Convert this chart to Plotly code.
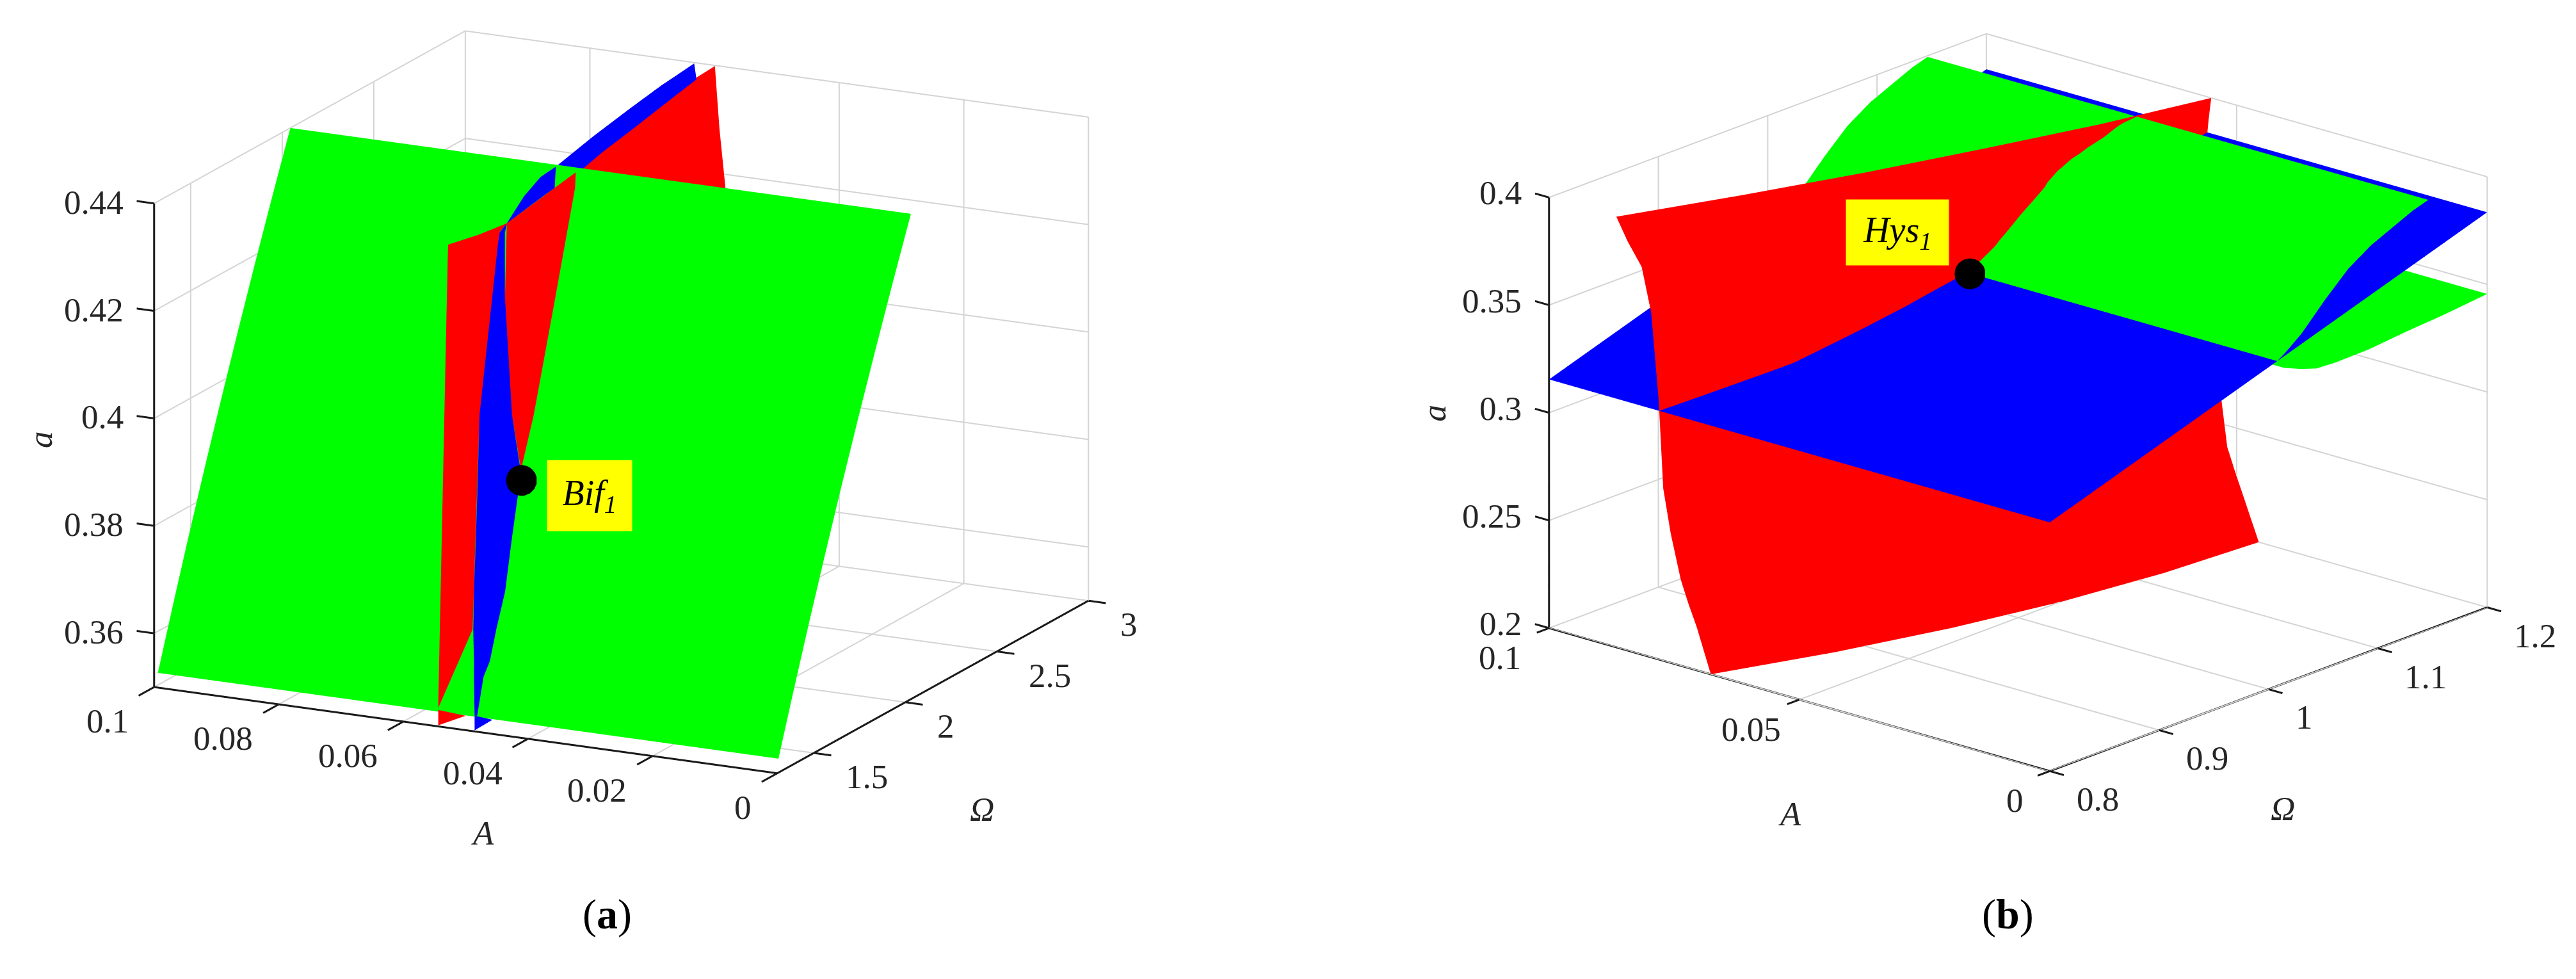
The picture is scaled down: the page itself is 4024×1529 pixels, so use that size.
import plotly.graph_objects as go

GREEN, RED, BLUE = "#00ff00", "#ff0000", "#0000ff"
TXT = "#1a1a1a"
GRID = "#d4d4d4"
FONT = "Liberation Serif"
W, H = 4024, 1529

# ---------- panel (a) ----------
A_TICKS_A = [0, 0.02, 0.04, 0.06, 0.08, 0.1]
A_TICKTEXT_A = ["0", "0.02", "0.04", "0.06", "0.08", "0.1"]
A_TICKS_OM = [1.5, 2, 2.5, 3]
A_TICKTEXT_OM = ["1.5", "2", "2.5", "3"]
A_TICKS_Z = [0.36, 0.38, 0.40, 0.42, 0.44]
A_TICKTEXT_Z = ["0.36", "0.38", "0.4", "0.42", "0.44"]

A_GREEN_OM = [1.3204, 1.402, 1.486, 1.5726, 1.6618, 1.7535, 1.8477, 1.9446, 2.0439]
A_GREEN_Z = [0.35227, 0.36323, 0.3742, 0.38517, 0.39613, 0.40710, 0.41807, 0.42904, 0.44]
A_GREEN_A = [0.1, 0.0004]

A_REDBACK_OM = [2.269, 3.0, 2.915, 3.0, 2.995, 2.995]
A_REDBACK_A = [0.06042, 0.0582, 0.06081, 0.05922, 0.0598, 0.0598]
A_REDBACK_Z = [0.4342, 0.41689, 0.43892, 0.42837, 0.44, 0.44]

A_BLUEBACK_OM = [2.15, 2.235, 2.32, 2.3557, 2.592, 2.5332, 2.796, 2.7107, 2.9932, 2.881]
A_BLUEBACK_A = [0.0604, 0.05902, 0.05957, 0.05909, 0.06164, 0.05919, 0.06263, 0.0593, 0.06307, 0.05941]
A_BLUEBACK_Z = [0.43724, 0.4350, 0.43964, 0.43615, 0.43938, 0.4373, 0.43963, 0.43858, 0.44, 0.43973]

A_REDSTRIP_OM = [1.3079, 1.3079, 1.4072, 1.4129, 1.6782, 1.6843, 1.8270, 1.8350, 1.8938, 1.9025, 1.9112, 1.9191, 1.9309, 1.9309]
A_REDSTRIP_A = [0.05464, 0.05464, 0.0573, 0.0522, 0.06453, 0.05907, 0.0685, 0.06146, 0.07027, 0.06253, 0.06596, 0.06271, 0.06193, 0.06193]
A_REDSTRIP_Z = [0.35323, 0.35323, 0.36554, 0.36626, 0.39915, 0.39991, 0.41762, 0.41860, 0.42589, 0.42698, 0.42806, 0.42903, 0.4305, 0.4305]

A_BLUESTRIP_OM = [1.3046, 1.3050, 1.3531, 1.3548, 1.3734, 1.3762, 1.4131, 1.4171, 1.4610, 1.4665, 1.5246, 1.5309, 1.6110, 1.6186, 1.6843, 1.6900, 1.8350, 1.8373, 1.9174, 1.9184, 1.9309, 1.9309]
A_BLUESTRIP_A = [0.0487, 0.0483, 0.05024, 0.04875, 0.05083, 0.04835, 0.0521, 0.04853, 0.05341, 0.04856, 0.05498, 0.04943, 0.05717, 0.05048, 0.05907, 0.05402, 0.06146, 0.05948, 0.06277, 0.06187, 0.06193, 0.06193]
A_BLUESTRIP_Z = [0.35282, 0.35287, 0.35884, 0.35905, 0.36135, 0.3617, 0.36627, 0.36677, 0.37222, 0.3729, 0.38011, 0.38089, 0.39082, 0.39176, 0.39991, 0.40063, 0.4186, 0.41888, 0.42882, 0.42894, 0.4305, 0.4305]

A_REDRIGHT_OM = [2.0071, 2.0071, 1.9839, 1.9875, 1.9309, 1.9418, 1.8373, 1.8461, 1.69, 1.6938, 1.6227, 1.6227]
A_REDRIGHT_A = [0.05311, 0.05311, 0.05581, 0.05264, 0.06193, 0.05232, 0.05948, 0.05165, 0.05402, 0.05065, 0.0506, 0.0506]
A_REDRIGHT_Z = [0.43995, 0.43995, 0.43707, 0.43752, 0.4305, 0.43185, 0.41888, 0.41998, 0.40063, 0.4011, 0.39227, 0.39227]

A_BLUEBAND_OM = [1.9309, 1.9309, 1.9680, 1.9559, 1.9952, 1.9722, 2.0378, 1.9839]
A_BLUEBAND_A = [0.06193, 0.06193, 0.06026, 0.05908, 0.0584, 0.05721, 0.0572, 0.05581]
A_BLUEBAND_Z = [0.4305, 0.4305, 0.4351, 0.4336, 0.43848, 0.43563, 0.43978, 0.43707]

A_REDTIP_OM = [1.3085, 1.3085, 1.3085, 1.3085]
A_REDTIP_A = [0.05465, 0.05025, 0.05465, 0.05465]
A_REDTIP_Z = [0.35286, 0.35248, 0.35, 0.35]

A_BLUETIP_OM = [1.3085, 1.3085, 1.3085, 1.3085]
A_BLUETIP_A = [0.04881, 0.04594, 0.04881, 0.04881]
A_BLUETIP_Z = [0.35273, 0.35243, 0.35, 0.35]

A_BIF = (1.5091, 0.04725, 0.39307)

# ---------- panel (b) ----------
B_TICKS_A = [0, 0.05, 0.1]
B_TICKTEXT_A = ["0", "0.05", "0.1"]
B_TICKS_OM = [0.8, 0.9, 1.0, 1.1, 1.2]
B_TICKTEXT_OM = ["0.8", "0.9", "1", "1.1", "1.2"]
B_TICKS_Z = [0.2, 0.25, 0.3, 0.35, 0.4]
B_TICKTEXT_Z = ["0.2", "0.25", "0.3", "0.35", "0.4"]

B_BLUE_OM = [0.8, 1.2]
B_BLUE_Z = [0.3155, 0.3835]
B_BLUE_A = [0.0, 0.1]

B_GREEN_OM = [1.2, 1.16, 1.126, 1.092, 1.0614, 1.044, 1.0291, 1.014, 1.008, 1.016, 1.0302, 1.052, 1.0731, 1.094, 1.116, 1.132, 1.1462]
B_GREEN_Z = [0.34556, 0.3434, 0.34212, 0.3404, 0.34008, 0.3406, 0.34324, 0.3466, 0.35086, 0.3536, 0.3594, 0.3712, 0.38144, 0.3884, 0.3935, 0.3972, 0.39948]
B_GREEN_A = [0.0, 0.1]

B_RED_OM = [0.8, 0.88, 0.96, 1.04, 1.12, 1.2]
B_RED_Z = [0.20, 0.21, 0.22, 0.23, 0.24, 0.26, 0.28, 0.32, 0.36, 0.38, 0.39, 0.40]
B_RED_A_R0 = [0.0677, 0.0603, 0.0544, 0.0499, 0.0470, 0.0456]
B_RED_A_R1 = [0.0691, 0.0616, 0.0559, 0.0516, 0.0489, 0.0472]
B_RED_A_R2 = [0.0705, 0.0628, 0.0574, 0.0532, 0.0508, 0.0488]
B_RED_A_R3 = [0.0722, 0.0637, 0.0585, 0.0546, 0.0524, 0.0504]
B_RED_A_R4 = [0.0737, 0.0645, 0.0595, 0.0560, 0.0540, 0.0519]
B_RED_A_R5 = [0.0757, 0.0660, 0.0606, 0.0570, 0.0550, 0.0530]
B_RED_A_R6 = [0.0772, 0.0672, 0.0615, 0.0578, 0.0558, 0.0540]
B_RED_A_R7 = [0.0781, 0.0680, 0.0625, 0.0585, 0.0562, 0.0550]
B_RED_A_R8 = [0.0796, 0.0700, 0.0650, 0.0607, 0.0565, 0.0560]
B_RED_A_R9 = [0.0815, 0.0725, 0.0665, 0.0615, 0.0575, 0.0560]
B_RED_A_R10 = [0.0843, 0.0755, 0.0690, 0.0635, 0.0585, 0.0556]
B_RED_A_R11 = [0.08656, 0.0788, 0.0717, 0.0655, 0.0597, 0.0551]

B_HYS = (0.9943, 0.05843, 0.35544)
B_HYS_TRUE = (1.008, 0.06143, 0.35086)

LIGHT = dict(ambient=1, diffuse=0, specular=0, roughness=1, fresnel=0)


def strip(om, a_, z, color, scene):
    """Flat lists ordered L0,R0,L1,R1,... -> triangles."""
    n = len(om) // 2
    i, j, k = [], [], []
    for r in range(n - 1):
        p = 2 * r
        i += [p, p + 1]
        j += [p + 1, p + 3]
        k += [p + 2, p + 2]
    return go.Mesh3d(x=om, y=a_, z=z, i=i, j=j, k=k, color=color, opacity=1, flatshading=True,
                     lighting=LIGHT, hoverinfo="skip", showscale=False, scene=scene)


def extrude(oms, zs, a_pair, color, scene):
    """Sheet a(Omega) swept across A."""
    om, a_, z = [], [], []
    for o, v in zip(oms, zs):
        om += [o, o]
        a_ += list(a_pair)
        z += [v, v]
    return strip(om, a_, z, color, scene)


def grid_mesh(oms, zs, rows, color, scene):
    nr, nc = len(zs), len(oms)
    x, y, z = [], [], []
    for r in range(nr):
        for c in range(nc):
            x.append(oms[c]); y.append(rows[r][c]); z.append(zs[r])
    i, j, k = [], [], []
    for r in range(nr - 1):
        for c in range(nc - 1):
            p = r * nc + c
            i += [p, p + 1]
            j += [p + 1, p + nc + 1]
            k += [p + nc, p + nc]
    return go.Mesh3d(x=x, y=y, z=z, i=i, j=j, k=k, color=color, opacity=1, flatshading=True,
                     lighting=LIGHT, hoverinfo="skip", showscale=False, scene=scene)


def segments(segs, color, width, scene):
    x, y, z = [], [], []
    for (p, q) in segs:
        x += [p[0], q[0], None]
        y += [p[1], q[1], None]
        z += [p[2], q[2], None]
    return go.Scatter3d(x=x, y=y, z=z, mode="lines", line=dict(color=color, width=width),
                        hoverinfo="skip", scene=scene)


def frame(scene, om0, om1, z0, z1, t_om, t_a, t_z, om_tick, a_tick):
    """MATLAB-style box: grid on the floor and the two back walls, black axes with ticks."""
    A0, A1 = 0.0, 0.1
    grid = []
    for o in t_om:
        grid.append(((o, A0, z0), (o, A1, z0)))
        grid.append(((o, A1, z0), (o, A1, z1)))
    for a_ in t_a:
        grid.append(((om0, a_, z0), (om1, a_, z0)))
        grid.append(((om1, a_, z0), (om1, a_, z1)))
    for v in t_z:
        grid.append(((om0, A1, v), (om1, A1, v)))
        grid.append(((om1, A0, v), (om1, A1, v)))
    axes = [((om0, A1, z0), (om0, A0, z0)), ((om0, A0, z0), (om1, A0, z0)), ((om0, A1, z0), (om0, A1, z1))]
    for o in t_om:
        axes.append(((o, A0, z0), (o, A0 - a_tick, z0)))
    for a_ in t_a:
        axes.append(((om0, a_, z0), (om0 - om_tick, a_, z0)))
    for v in t_z:
        axes.append(((om0, A1, v), (om0, A1 + a_tick, v)))
    return [segments(grid, GRID, 4, scene), segments(axes, TXT, 6, scene)]


fig = go.Figure()
for tr in frame("scene", 1.3, 3.0, 0.35, 0.44, A_TICKS_OM, A_TICKS_A, A_TICKS_Z, 0.085, 0.0028):
    fig.add_trace(tr)
for tr in frame("scene2", 0.8, 1.2, 0.2, 0.4, B_TICKS_OM, B_TICKS_A, B_TICKS_Z, 0.0112, 0.0028):
    fig.add_trace(tr)

# panel a
fig.add_trace(extrude(A_GREEN_OM, A_GREEN_Z, A_GREEN_A, GREEN, "scene"))
fig.add_trace(strip(A_REDBACK_OM, A_REDBACK_A, A_REDBACK_Z, RED, "scene"))
fig.add_trace(strip(A_BLUEBACK_OM, A_BLUEBACK_A, A_BLUEBACK_Z, BLUE, "scene"))
fig.add_trace(strip(A_REDSTRIP_OM, A_REDSTRIP_A, A_REDSTRIP_Z, RED, "scene"))
fig.add_trace(strip(A_BLUESTRIP_OM, A_BLUESTRIP_A, A_BLUESTRIP_Z, BLUE, "scene"))
fig.add_trace(strip(A_REDRIGHT_OM, A_REDRIGHT_A, A_REDRIGHT_Z, RED, "scene"))
fig.add_trace(strip(A_BLUEBAND_OM, A_BLUEBAND_A, A_BLUEBAND_Z, BLUE, "scene"))
fig.add_trace(strip(A_REDTIP_OM, A_REDTIP_A, A_REDTIP_Z, RED, "scene"))
fig.add_trace(strip(A_BLUETIP_OM, A_BLUETIP_A, A_BLUETIP_Z, BLUE, "scene"))
fig.add_trace(go.Scatter3d(x=[A_BIF[0]], y=[A_BIF[1]], z=[A_BIF[2]], mode="markers",
                           marker=dict(size=28, color="black"), hoverinfo="skip", scene="scene"))
# panel b
fig.add_trace(go.Mesh3d(x=[B_BLUE_OM[0], B_BLUE_OM[0], B_BLUE_OM[1], B_BLUE_OM[1]],
                        y=[B_BLUE_A[0], B_BLUE_A[1], B_BLUE_A[0], B_BLUE_A[1]],
                        z=[B_BLUE_Z[0], B_BLUE_Z[0], B_BLUE_Z[1], B_BLUE_Z[1]],
                        i=[0, 1], j=[1, 3], k=[2, 2], color=BLUE, opacity=1, flatshading=True,
                        lighting=LIGHT, hoverinfo="skip", showscale=False, scene="scene2"))
fig.add_trace(extrude(B_GREEN_OM, B_GREEN_Z, B_GREEN_A, GREEN, "scene2"))
fig.add_trace(grid_mesh(B_RED_OM, B_RED_Z,
                        [B_RED_A_R0, B_RED_A_R1, B_RED_A_R2, B_RED_A_R3, B_RED_A_R4, B_RED_A_R5,
                         B_RED_A_R6, B_RED_A_R7, B_RED_A_R8, B_RED_A_R9, B_RED_A_R10, B_RED_A_R11],
                        RED, "scene2"))
fig.add_trace(go.Scatter3d(x=[B_HYS[0]], y=[B_HYS[1]], z=[B_HYS[2]], mode="markers",
                           marker=dict(size=28, color="black"), hoverinfo="skip", scene="scene2"))


def axis(rng, ticks):
    return dict(range=rng, autorange=False, tickmode="array", tickvals=ticks, showticklabels=False,
                title=dict(text=""), showbackground=False, showgrid=False, showline=False, ticks="",
                zeroline=False, showspikes=False)


def label(x, y, z, text, xs, ys, xanchor="center", angle=0, size=53):
    return dict(x=x, y=y, z=z, text=text, showarrow=False, xshift=xs, yshift=ys, xanchor=xanchor,
                yanchor="middle", textangle=angle, font=dict(family=FONT, size=size, color="#262626"))


ann_a = []
for v, t in zip(A_TICKS_A, A_TICKTEXT_A):
    ann_a.append(label(1.3, v, 0.35, t, -38, -53, "right"))
for v, t in zip(A_TICKS_OM, A_TICKTEXT_OM):
    ann_a.append(label(v, 0, 0.35, t, 48, -37, "left"))
for v, t in zip(A_TICKS_Z, A_TICKTEXT_Z):
    ann_a.append(label(1.3, 0.1, v, t, -46, 2, "right"))
ann_a.append(label(1.3, 0.1, 0.3961, "<i>a</i>", -178, 0, angle=-90))
ann_a.append(label(1.9, 0, 0.35, "<i>Ω</i>", 148, -151))
ann_a.append(label(1.3, 0.05, 0.35, "<i>A</i>", 27, -161))
ann_a.append(dict(x=A_BIF[0], y=A_BIF[1], z=A_BIF[2], text="<i>Bif<sub>1</sub></i>", showarrow=False,
                  xshift=107, yshift=-24, width=130, height=108, bgcolor="#ffff00", align="center",
                  valign="middle", font=dict(family=FONT, size=56, color="black")))

ann_b = []
for v, t, xs in zip(B_TICKS_A, B_TICKTEXT_A, [-39, -27, -42]):
    ann_b.append(label(0.8, v, 0.2, t, xs, -46, "right"))
for v, t in zip(B_TICKS_OM, B_TICKTEXT_OM):
    ann_b.append(label(v, 0, 0.2, t, 40, -44, "left"))
for v, t in zip(B_TICKS_Z, B_TICKTEXT_Z):
    ann_b.append(label(0.8, 0.1, v, t, -41, 7, "right"))
ann_b.append(label(0.8, 0.1, 0.3, "<i>a</i>", -180, 0, angle=-90))
ann_b.append(label(1.0, 0, 0.2, "<i>Ω</i>", 22, -187))
ann_b.append(label(0.8, 0.05, 0.2, "<i>A</i>", -15, -178))
ann_b.append(dict(x=B_HYS_TRUE[0], y=B_HYS_TRUE[1], z=B_HYS_TRUE[2], text="<i>Hys<sub>1</sub></i>",
                  showarrow=False, xshift=-113, yshift=64, width=158, height=100, bgcolor="#ffff00",
                  align="center", valign="middle", font=dict(family=FONT, size=56, color="black")))

D_A, D_B = 2.0, 2.0
fig.update_layout(
    width=W, height=H, margin=dict(l=0, r=0, t=0, b=0), paper_bgcolor="white", showlegend=False,
    scene=dict(
        domain=dict(x=[0, 1925 / W], y=[1 - 1240 / H, 1]),
        xaxis=axis([1.215, 3.085], A_TICKS_OM), yaxis=axis([-0.0028, 0.1028], A_TICKS_A),
        zaxis=axis([0.3495, 0.4405], A_TICKS_Z),
        aspectmode="manual", aspectratio=dict(x=1.9303, y=1.8531, z=1.282),
        camera=dict(projection=dict(type="orthographic"), up=dict(x=0, y=0, z=1), center=dict(x=0, y=0, z=0),
                    eye=dict(x=-0.8597 * D_A, y=-0.4294 * D_A, z=0.2769 * D_A)),
        annotations=ann_a, bgcolor="white"),
    scene2=dict(
        domain=dict(x=[2265 / W, 1], y=[1 - 1241 / H, 1]),
        xaxis=axis([0.7888, 1.2112], B_TICKS_OM), yaxis=axis([-0.0028, 0.1028], B_TICKS_A),
        zaxis=axis([0.199, 0.401], B_TICKS_Z),
        aspectmode="manual", aspectratio=dict(x=1.7675, y=1.7675, z=1.1584),
        camera=dict(projection=dict(type="orthographic"), up=dict(x=0, y=0, z=1), center=dict(x=0, y=0, z=0),
                    eye=dict(x=-0.7118 * D_B, y=-0.6216 * D_B, z=0.3269 * D_B)),
        annotations=ann_b, bgcolor="white"),
    annotations=[
        dict(x=940 / W, y=1 - 1420 / H, xref="paper", yref="paper", xanchor="center", yanchor="middle",
             text="(<b>a</b>)", showarrow=False, font=dict(family=FONT, size=66, color="black")),
        dict(x=3128 / W, y=1 - 1420 / H, xref="paper", yref="paper", xanchor="center", yanchor="middle",
             text="(<b>b</b>)", showarrow=False, font=dict(family=FONT, size=66, color="black")),
    ],
)
fig.write_html("out.html")
